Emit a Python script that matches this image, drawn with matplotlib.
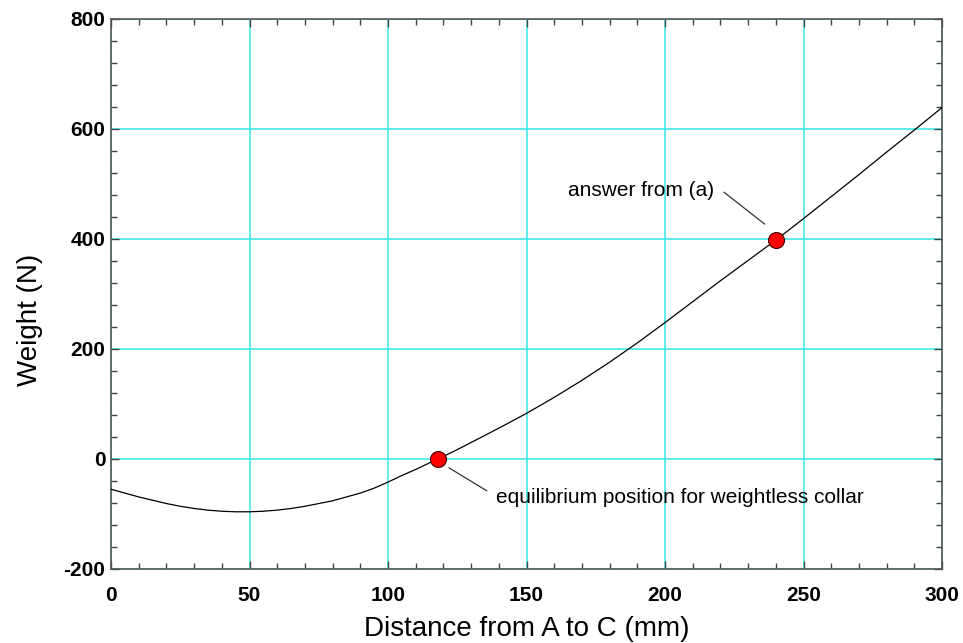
import matplotlib
matplotlib.use("Agg")
import matplotlib.pyplot as plt
from matplotlib.ticker import MultipleLocator

plt.rcParams["font.family"] = ["Liberation Sans", "DejaVu Sans"]
plt.rcParams["axes.unicode_minus"] = False

# Weight needed to hold the collar vs. its position along the rod
distance_mm = [0, 5, 10, 15, 20, 25, 30, 35, 40, 45, 50, 55, 60, 65, 70, 75,
               80, 85, 90, 95, 100, 105, 110, 115, 118, 125, 130, 140, 150,
               160, 170, 180, 190, 200, 210, 220, 230, 240, 250, 260, 270,
               280, 290, 300]
weight_n = [-55, -62, -69, -75, -81, -86, -90, -93, -95, -96, -96, -95, -93,
            -90, -86, -81, -76, -69, -62, -53, -42, -30, -19, -7, 0, 17, 30,
            56, 83, 112, 143, 176, 211, 248, 286, 324, 361, 398, 437, 477,
            517, 558, 598, 639]

# Highlighted points and their labels
pts_x = [118, 240]
pts_y = [0, 398]
pts_labels = ["equilibrium position for weightless collar", "answer from (a)"]

GRID = "#33e8e8"

fig = plt.figure(figsize=(9.63, 6.43), dpi=100, facecolor="white")
ax = fig.add_axes([0.1153, 0.1151, 0.8629, 0.8554])

ax.plot(distance_mm, weight_n, color="black", linewidth=0.9, zorder=3)
ax.plot(pts_x, pts_y, "o", color="red", markeredgecolor="#400000",
        markeredgewidth=0.8, markersize=11.5, zorder=4)

# labels with short leader lines
ax.text(139, -70, pts_labels[0], fontsize=15, va="center", ha="left")
ax.annotate("", xy=(122, -16), xytext=(135.7, -58),
            arrowprops=dict(arrowstyle="-", color="#333333", lw=0.9,
                            shrinkA=0, shrinkB=0))
ax.text(165, 488, pts_labels[1], fontsize=15, va="center", ha="left")
ax.annotate("", xy=(236, 427), xytext=(221.3, 485),
            arrowprops=dict(arrowstyle="-", color="#333333", lw=0.9,
                            shrinkA=0, shrinkB=0))

ax.set_xlim(0, 300)
ax.set_ylim(-200, 800)
ax.xaxis.set_major_locator(MultipleLocator(50))
ax.xaxis.set_minor_locator(MultipleLocator(10))
ax.yaxis.set_major_locator(MultipleLocator(200))
ax.yaxis.set_minor_locator(MultipleLocator(40))

ax.grid(which="major", color=GRID, linewidth=1.1, zorder=1)
ax.set_axisbelow(True)

ax.tick_params(which="both", direction="in", top=True, right=True,
               colors="#444444", labelcolor="black", labelsize=15)
ax.tick_params(which="major", length=6, width=1)
ax.tick_params(which="minor", length=4, width=1)
ax.tick_params(axis="x", which="major", pad=12)
ax.tick_params(axis="y", which="major", pad=4)
for lbl in ax.get_xticklabels() + ax.get_yticklabels():
    lbl.set_fontweight("bold")
for s in ax.spines.values():
    s.set_color("#555555")
    s.set_linewidth(1.2)

ax.set_xlabel("Distance from A to C (mm)", fontsize=20, labelpad=8)
ax.set_ylabel("Weight (N)", fontsize=20)
ax.yaxis.set_label_coords(-0.082, 0.453)

fig.savefig("out.png", dpi=100, facecolor="white")
